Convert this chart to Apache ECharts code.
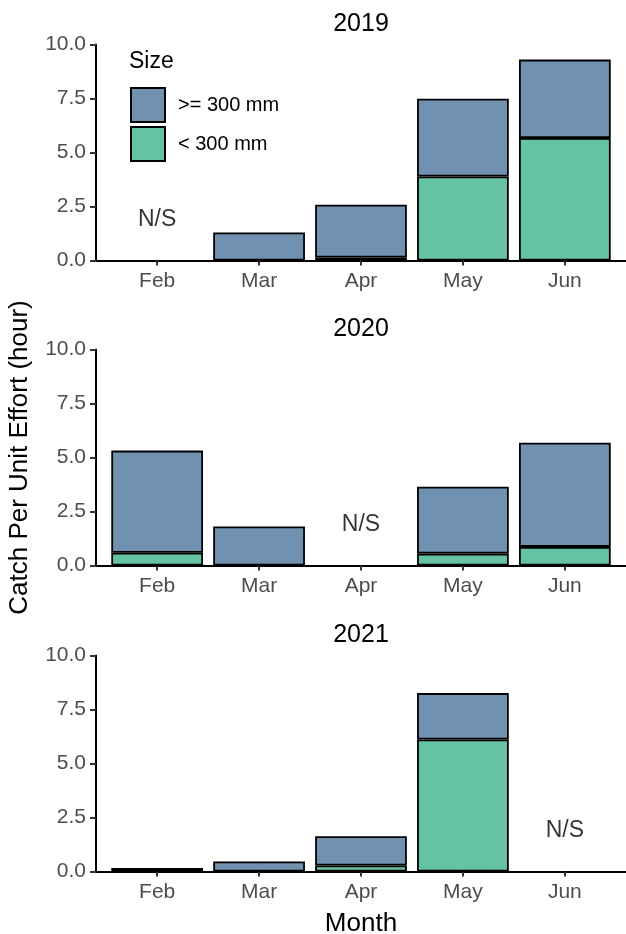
<!DOCTYPE html>
<html>
<head>
<meta charset="utf-8">
<script src="https://cdn.jsdelivr.net/npm/echarts@6/dist/echarts.min.js"></script>
<style>
  html, body { margin: 0; padding: 0; background: #fff; }
  #chart { width: 626px; height: 934px; }
</style>
</head>
<body>
<div id="chart"></div>
<script>
// Catch per unit effort by month, split by fish size, one panel per year
const months = ['Feb', 'Mar', 'Apr', 'May', 'Jun'];
const years = ['2019', '2020', '2021'];
const yTicks = [0, 2.5, 5, 7.5, 10];

// < 300 mm (bottom of each stack)
const small2019 = [null, null, 0.14, 3.89, 5.67];
const small2020 = [0.59, null, null, 0.55, 0.86];
const small2021 = [null, null, 0.28, 6.11, null];

// >= 300 mm (top of each stack)
const large2019 = [null, 1.30, 2.44, 3.60, 3.63];
const large2020 = [4.73, 1.81, null, 3.10, 4.82];
const large2021 = [0.16, 0.46, 1.35, 2.15, null];

// months not sampled
const notSampled = ['Feb', 'Apr', 'Jun'];
const notSampledY = 2;

const smallByYear = [small2019, small2020, small2021];
const largeByYear = [large2019, large2020, large2021];

const colLarge = '#7191B0';
const colSmall = '#66C2A5';
const font = '"Liberation Sans", Arial, Helvetica, sans-serif';
const grey = '#4D4D4D';

const panelTops = [44.5, 349.5, 655.5];
const panelH = 216;
const plotLeft = 96, plotRight = 0;
const band = (626 - plotLeft - plotRight) / 5.2;
const pad = band * 0.1;
const edge = 1.8;

const grids = [], xAxes = [], yAxes = [], series = [], titles = [];

years.forEach((yr, i) => {
  const top = panelTops[i];
  // frame grid: axis lines spanning the expanded range
  grids.push({ left: plotLeft, right: plotRight, top: top, height: panelH, outerBoundsMode: 'none', containLabel: false });
  // data grid: category bands
  grids.push({ left: plotLeft + pad, right: plotRight + pad, top: top, height: panelH, outerBoundsMode: 'none', containLabel: false });

  xAxes.push({
    type: 'value', gridIndex: 2 * i, min: 0, max: 1,
    axisLine: { show: true, lineStyle: { color: '#000', width: 2 } },
    axisTick: { show: false }, axisLabel: { show: false }, splitLine: { show: false },
    name: i === 2 ? 'Month' : '', nameLocation: 'middle', nameGap: 39,
    nameTextStyle: { fontFamily: font, fontSize: 26, color: '#000' }
  });
  xAxes.push({
    type: 'category', gridIndex: 2 * i + 1, data: months,
    axisLine: { show: false },
    axisTick: { show: true, alignWithLabel: true, length: 5, lineStyle: { color: '#333', width: 2 } },
    axisLabel: { fontFamily: font, fontSize: 21, color: grey, margin: 10 }
  });

  yAxes.push({
    type: 'value', gridIndex: 2 * i, min: yTicks[0], max: yTicks[yTicks.length - 1], interval: 2.5,
    axisLine: { show: true, lineStyle: { color: '#000', width: 2 } },
    axisTick: { show: true, length: 6, lineStyle: { color: '#333', width: 2 } },
    axisLabel: { fontFamily: font, fontSize: 21, color: grey, margin: 10, formatter: v => v.toFixed(1) },
    splitLine: { show: false },
    name: i === 1 ? 'Catch Per Unit Effort (hour)' : '', nameLocation: 'middle', nameGap: 63,
    nameTextStyle: { fontFamily: font, fontSize: 26, color: '#000' }
  });
  yAxes.push({
    type: 'value', gridIndex: 2 * i + 1, min: 0, max: 10, show: false
  });

  const common = {
    type: 'bar', xAxisIndex: 2 * i + 1, yAxisIndex: 2 * i + 1, stack: 'cpue' + yr,
    barWidth: '90%', animation: false
  };
  series.push(Object.assign({}, common, {
    name: '< 300 mm', data: smallByYear[i],
    itemStyle: { color: colSmall, borderColor: '#000', borderWidth: edge }
  }));
  series.push(Object.assign({}, common, {
    name: '>= 300 mm', data: largeByYear[i],
    itemStyle: { color: colLarge, borderColor: '#000', borderWidth: edge }
  }));
  series.push({
    type: 'scatter', xAxisIndex: 2 * i + 1, yAxisIndex: 2 * i + 1,
    symbolSize: 1, itemStyle: { color: 'rgba(0,0,0,0)' }, animation: false, silent: true,
    data: [[notSampled[i], notSampledY]],
    label: {
      show: true, position: 'inside', formatter: 'N/S', fontFamily: font, fontSize: 23,
      color: '#000', textBorderWidth: 0, offset: [0, 2]
    }
  });

  titles.push({
    text: yr, left: 361, top: top - 33, textAlign: 'center', padding: 0,
    textStyle: { fontFamily: font, fontSize: 25, fontWeight: 'normal', color: '#000' }
  });
});

titles.push({
  text: 'Size', left: 129, top: 50, padding: 0,
  textStyle: { fontFamily: font, fontSize: 23, fontWeight: 'normal', color: '#000' }
});

const chart = echarts.init(document.getElementById('chart'), null, { renderer: 'canvas' });
chart.setOption({
  backgroundColor: '#fff',
  animation: false,
  title: titles,
  grid: grids,
  xAxis: xAxes,
  yAxis: yAxes,
  legend: {
    data: ['>= 300 mm', '< 300 mm'],
    orient: 'vertical', left: 130, top: 87, padding: 0,
    itemWidth: 34, itemHeight: 34, itemGap: 3, icon: 'rect',
    itemStyle: { borderColor: '#000', borderWidth: 2 },
    textStyle: { fontFamily: font, fontSize: 20, color: '#000', padding: [0, 0, 0, 8] },
    selectedMode: false
  },
  series: series
});
</script>
</body>
</html>
